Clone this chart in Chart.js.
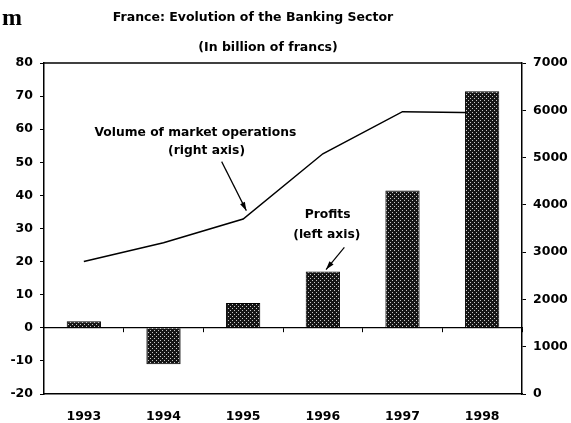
<!DOCTYPE html>
<html>
<head>
<meta charset="utf-8">
<script src="https://cdn.jsdelivr.net/npm/chart.js@4/dist/chart.umd.min.js"></script>
<style>
    body { margin: 0; background: #fff; }
</style>
</head>
<body>
<canvas id="bank" width="571" height="423"></canvas>
<script>
// values
const years = ['1993', '1994', '1995', '1996', '1997', '1998'];
const profits = [2, -11, 7.5, 17, 41.5, 71.5];          // left axis, bn FRF
const volume = [2800, 3200, 3700, 5080, 5970, 5950];    // right axis, bn FRF
const leftTicks = [-20, -10, 0, 10, 20, 30, 40, 50, 60, 70, 80];
const rightTicks = [0, 1000, 2000, 3000, 4000, 5000, 6000, 7000];

// callouts, given as (category index, left-axis value)
const notes = [
    { text: 'Volume of market operations', x: 1.40, y: 59 },
    { text: '(right axis)', x: 1.54, y: 53.6 },
    { text: 'Profits', x: 3.06, y: 34 },
    { text: '(left axis)', x: 3.05, y: 28 }
];
const arrows = [
    { from: [1.73, 50.2], to: [2.04, 35.4] },
    { from: [3.27, 24.3], to: [3.04, 17.6] }
];

const FONT = '"DejaVu Sans", Arial, sans-serif';

function stipple() {
    let c = document.createElement('canvas');
    c.width = 4;
    c.height = 4;
    let g = c.getContext('2d');
    g.fillStyle = '#151515';
    g.fillRect(0, 0, 4, 4);
    g.fillStyle = '#c8c8c8';
    g.fillRect(0, 0, 1, 1);
    g.fillRect(2, 2, 1, 1);
    return g.createPattern(c, 'repeat');
}

const decor = {
    id: 'decor',
    afterDatasetsDraw(chart) {
        let ctx = chart.ctx;
        let area = chart.chartArea;
        let x = chart.scales.x;
        let y = chart.scales.y;
        ctx.save();
        // frame top
        ctx.strokeStyle = '#000';
        ctx.lineWidth = 1.5;
        ctx.beginPath();
        ctx.moveTo(area.left, area.top);
        ctx.lineTo(area.right, area.top);
        ctx.stroke();

        ctx.fillStyle = '#000';
        ctx.font = 'bold 12.3px ' + FONT;
        ctx.textAlign = 'center';
        ctx.textBaseline = 'middle';
        notes.forEach((n) => {
            ctx.fillText(n.text, x.getPixelForValue(n.x), y.getPixelForValue(n.y));
        });

        ctx.lineWidth = 1.2;
        arrows.forEach((a) => {
            let x0 = x.getPixelForValue(a.from[0]), y0 = y.getPixelForValue(a.from[1]);
            let x1 = x.getPixelForValue(a.to[0]), y1 = y.getPixelForValue(a.to[1]);
            let ang = Math.atan2(y1 - y0, x1 - x0);
            ctx.beginPath();
            ctx.moveTo(x0, y0);
            ctx.lineTo(x1, y1);
            ctx.stroke();
            ctx.beginPath();
            ctx.moveTo(x1, y1);
            ctx.lineTo(x1 - 9 * Math.cos(ang - 0.3), y1 - 9 * Math.sin(ang - 0.3));
            ctx.lineTo(x1 - 9 * Math.cos(ang + 0.3), y1 - 9 * Math.sin(ang + 0.3));
            ctx.closePath();
            ctx.fill();
        });

        // titles
        ctx.textBaseline = 'alphabetic';
        ctx.font = 'bold 12.5px ' + FONT;
        ctx.fillText('France: Evolution of the Banking Sector', 253, 21);
        ctx.fillText('(In billion of francs)', 268, 51);
        ctx.textAlign = 'left';
        ctx.font = 'bold 24px "Liberation Serif", serif';
        ctx.fillText('m', 2, 25);
        ctx.restore();
    }
};

const tickFont = { family: FONT, size: 12.5, weight: 'bold' };

new Chart(document.getElementById('bank').getContext('2d'), {
    type: 'bar',
    data: {
        labels: years,
        datasets: [{
            type: 'bar',
            label: 'Profits (left axis)',
            data: profits,
            yAxisID: 'y',
            backgroundColor: stipple(),
            borderColor: '#000',
            borderWidth: 1,
            categoryPercentage: 1,
            barPercentage: 0.43,
            order: 0
        }, {
            type: 'line',
            label: 'Volume of market operations (right axis)',
            data: volume,
            yAxisID: 'y2',
            borderColor: '#000',
            borderWidth: 1.5,
            pointRadius: 0,
            tension: 0,
            fill: false,
            order: 1
        }]
    },
    options: {
        responsive: false,
        animation: false,
        layout: { padding: { top: 63, left: 0, right: 0, bottom: 0 } },
        plugins: {
            legend: { display: false },
            tooltip: { enabled: false }
        },
        scales: {
            x: {
                position: 'bottom',
                grid: { display: false },
                border: { color: '#000', width: 1.5 },
                ticks: { color: '#000', font: tickFont, padding: 7 },
                afterFit: (s) => { s.height = 29; }
            },
            x2: {
                type: 'category',
                position: { y: 0 },
                labels: years,
                offset: true,
                ticks: { display: false },
                grid: { offset: true, drawOnChartArea: false, tickLength: 4, color: '#000', lineWidth: 1 },
                border: { color: '#000', width: 1.2 }
            },
            y: {
                position: 'left',
                min: leftTicks[0],
                max: leftTicks[leftTicks.length - 1],
                ticks: { stepSize: 10, color: '#000', font: tickFont, padding: 7 },
                grid: { drawOnChartArea: false, tickLength: 4, color: '#000' },
                border: { color: '#000', width: 1.5 },
                afterFit: (s) => { s.width = 44; }
            },
            y2: {
                position: 'right',
                min: rightTicks[0],
                max: rightTicks[rightTicks.length - 1],
                ticks: { stepSize: 1000, color: '#000', font: tickFont, padding: 7, callback: (v) => String(v) },
                grid: { drawOnChartArea: false, tickLength: 4, color: '#000' },
                border: { color: '#000', width: 1.5 },
                afterFit: (s) => { s.width = 49; }
            }
        }
    },
    plugins: [decor]
});
</script>
</body>
</html>
